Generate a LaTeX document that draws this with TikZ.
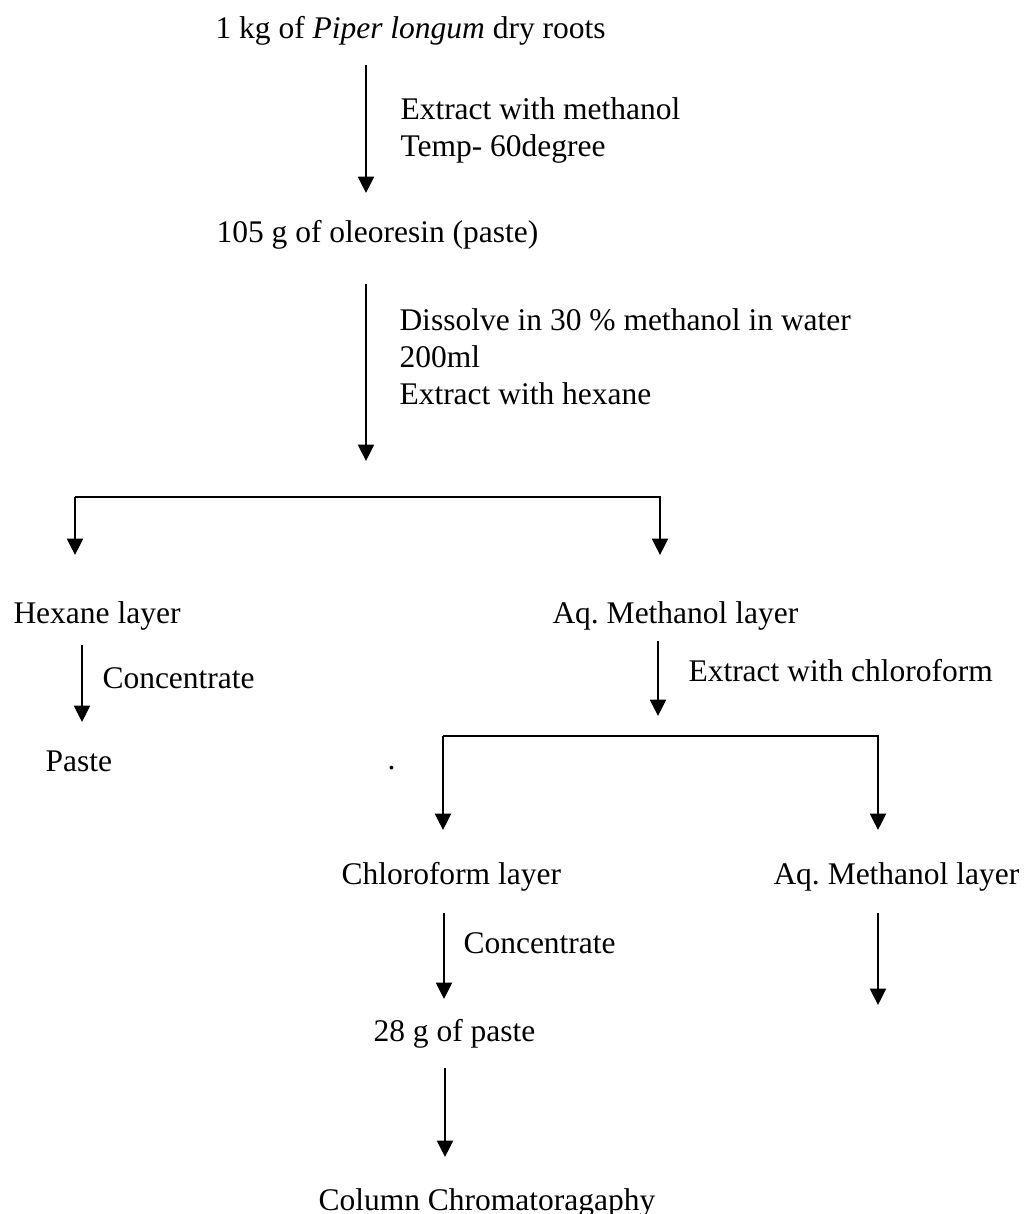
\documentclass[tikz,border=0pt]{standalone}
\usepackage{fontspec}
\setmainfont{Liberation Serif}
\usepackage{tikz}
\usetikzlibrary{arrows.meta}
\frenchspacing
\tikzset{step label/.style={anchor=base west, inner sep=0pt, align=left, font=\fontsize{12.6}{14.8}\selectfont}}
\tikzset{flow/.style={line width=1.05pt, -{Triangle[width=6.4pt,length=6.6pt]}}}

\begin{document}
\begin{tikzpicture}[x=0.4pt,y=-0.4pt]
  \useasboundingbox (0,0) rectangle (1024,1214);
  % texts (multi-line labels sit on their last line)
  \node[step label] (root) at (215,38) {1 kg of \textit{Piper longum} dry roots};
  \node[step label] (meth) at (400,156) {Extract with methanol\\Temp- 60degree};
  \node[step label] (oleo) at (216,242) {105 g of oleoresin (paste)};
  \node[step label] (diss) at (399,404) {Dissolve in 30 \% methanol in water\\200ml\\Extract with hexane};
  \node[step label] (hexl) at (13,623) {Hexane layer};
  \node[step label] (aqml) at (552,623) {Aq. Methanol layer};
  \node[step label] (conc) at (102,688) {Concentrate};
  \node[step label] (chlx) at (688,681) {Extract with chloroform};
  \node[step label] (paste) at (45,771) {Paste};
  \node[step label] (dot) at (387,769) {.};
  \node[step label] (chll) at (341,884) {Chloroform layer};
  \node[step label] (aqmm) at (773,884) {Aq. Methanol layer};
  \node[step label] (concb) at (463,953) {Concentrate};
  \node[step label] (pst) at (373,1041) {28 g of paste};
  \node[step label] (col) at (318,1210) {Column Chromatoragaphy};

  % arrow ends
  \foreach \lab/\x/\y in {
    a1/366/65, b1/366/193,
    a2/366/284, b2/366/461,
    bar1/75/497, hexin/75/555, aqin/660/555,
    a3/82/645, b3/82/722,
    a4/658/641, b4/658/716,
    bar2/443/736, chlin/443/830, aqin2/878/830,
    a5/444/913, b5/444/999,
    a6/878/913, b6/878/1005,
    a7/445/1068, b7/445/1157%
  } {
    \coordinate (\lab) at (\x,\y);
  }
  \foreach \u/\v in {
    a1/b1,
    a2/b2,
    bar1/hexin,
    a3/b3,
    a4/b4,
    bar2/chlin,
    a5/b5,
    a6/b6,
    a7/b7%
  }{
    \draw[flow] (\u) -- (\v);
  }
  \draw[flow] (bar1) -| (aqin);
  \draw[flow] (bar2) -| (aqin2);
\end{tikzpicture}
\end{document}
